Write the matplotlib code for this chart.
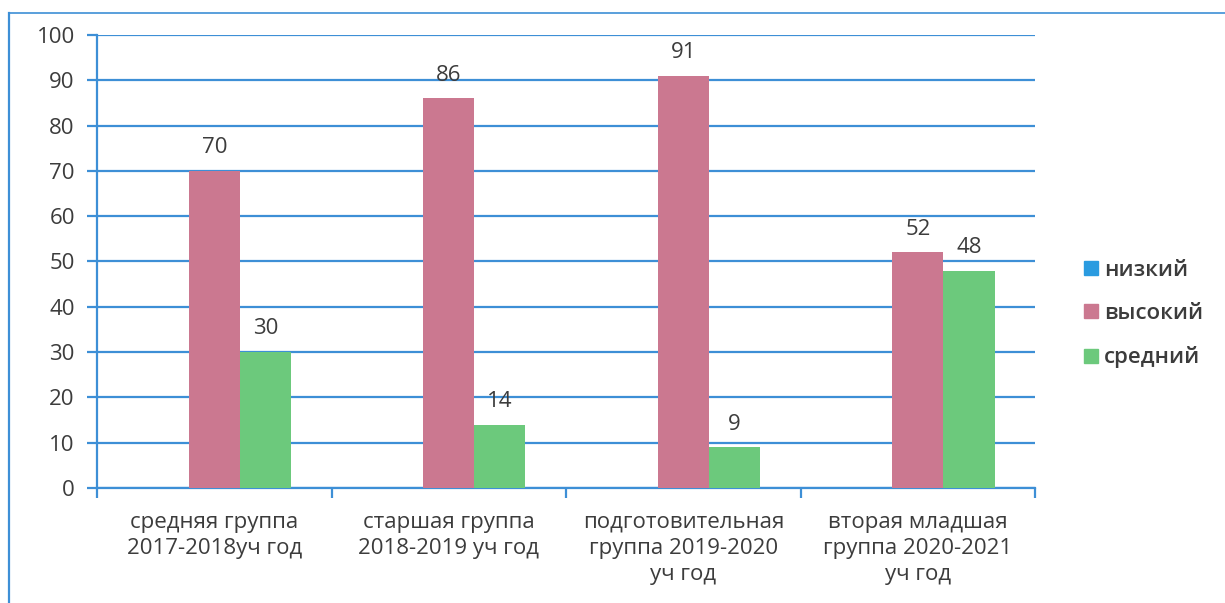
import matplotlib.pyplot as plt
import numpy as np
from matplotlib.lines import Line2D

plt.rcParams['font.family'] = ['Open Sans', 'DejaVu Sans']

categories = ['средняя группа\n2017-2018уч год',
              'старшая группа\n2018-2019 уч год',
              'подготовительная\nгруппа 2019-2020\nуч год',
              'вторая младшая\nгруппа 2020-2021\nуч год']
series_names = ['низкий', 'высокий', 'средний']
low = [0, 0, 0, 0]
high = [70, 86, 91, 52]
mid = [30, 14, 9, 48]
colors = ['#2a9be0', '#cb7890', '#6cc97c']
text_col = '#3c3c3c'
blue = '#3d8fd6'
fs = 16

fig = plt.figure(figsize=(12.25, 6.03), dpi=100)
ax = fig.add_axes([0.0792, 0.1907, 0.7658, 0.7513])

x = np.arange(len(categories))
w = 0.218
for i, (vals, c, name) in enumerate(zip([low, high, mid], colors, series_names)):
    bars = ax.bar(x + (i - 1) * w, vals, w, color=c, label=name, zorder=3)
    if i > 0:
        for b, v in zip(bars, vals):
            ax.text(b.get_x() + b.get_width() / 2, v + 2.8, str(v), ha='center', va='bottom',
                    fontsize=fs, color=text_col)

ax.set_xlim(-0.5, len(categories) - 0.5)
ax.set_ylim(0, 100)
ax.set_yticks(range(0, 101, 10))
ax.yaxis.grid(True, color=blue, linewidth=1.6, zorder=0)
ax.set_axisbelow(True)
for s in ['top', 'right']:
    ax.spines[s].set_visible(False)
for s in ['left', 'bottom']:
    ax.spines[s].set_color(blue)
    ax.spines[s].set_linewidth(1.6)

ax.set_xticks(np.arange(-0.5, len(categories)), minor=False)
ax.set_xticklabels([])
ax.set_xticks(x, minor=True)
ax.set_xticklabels(categories, minor=True, fontsize=fs, color=text_col, linespacing=1.33)
ax.tick_params(axis='x', which='major', length=7, color=blue, width=1.6)
ax.tick_params(axis='x', which='minor', length=0, pad=17)
ax.tick_params(axis='y', length=7, color=blue, width=1.6, labelsize=fs,
               labelcolor=text_col, pad=9)

handles = [Line2D([], [], marker='s', linestyle='', markersize=10, color=c) for c in colors]
leg = fig.legend(handles, series_names, loc='upper left', bbox_to_anchor=(0.865, 0.602),
                 frameon=False, fontsize=fs, handletextpad=0.1, labelspacing=1.0,
                 handlelength=1.0)
for t in leg.get_texts():
    t.set_color(text_col)
    t.set_fontweight('semibold')

# outer frame of the pasted chart
fig.add_artist(Line2D([0.0075, 0.0075], [0.0, 0.978], color=blue, linewidth=1.6))
fig.add_artist(Line2D([0.0075, 1.0], [0.978, 0.978], color=blue, linewidth=1.2))

fig.savefig('out.png', dpi=100)
